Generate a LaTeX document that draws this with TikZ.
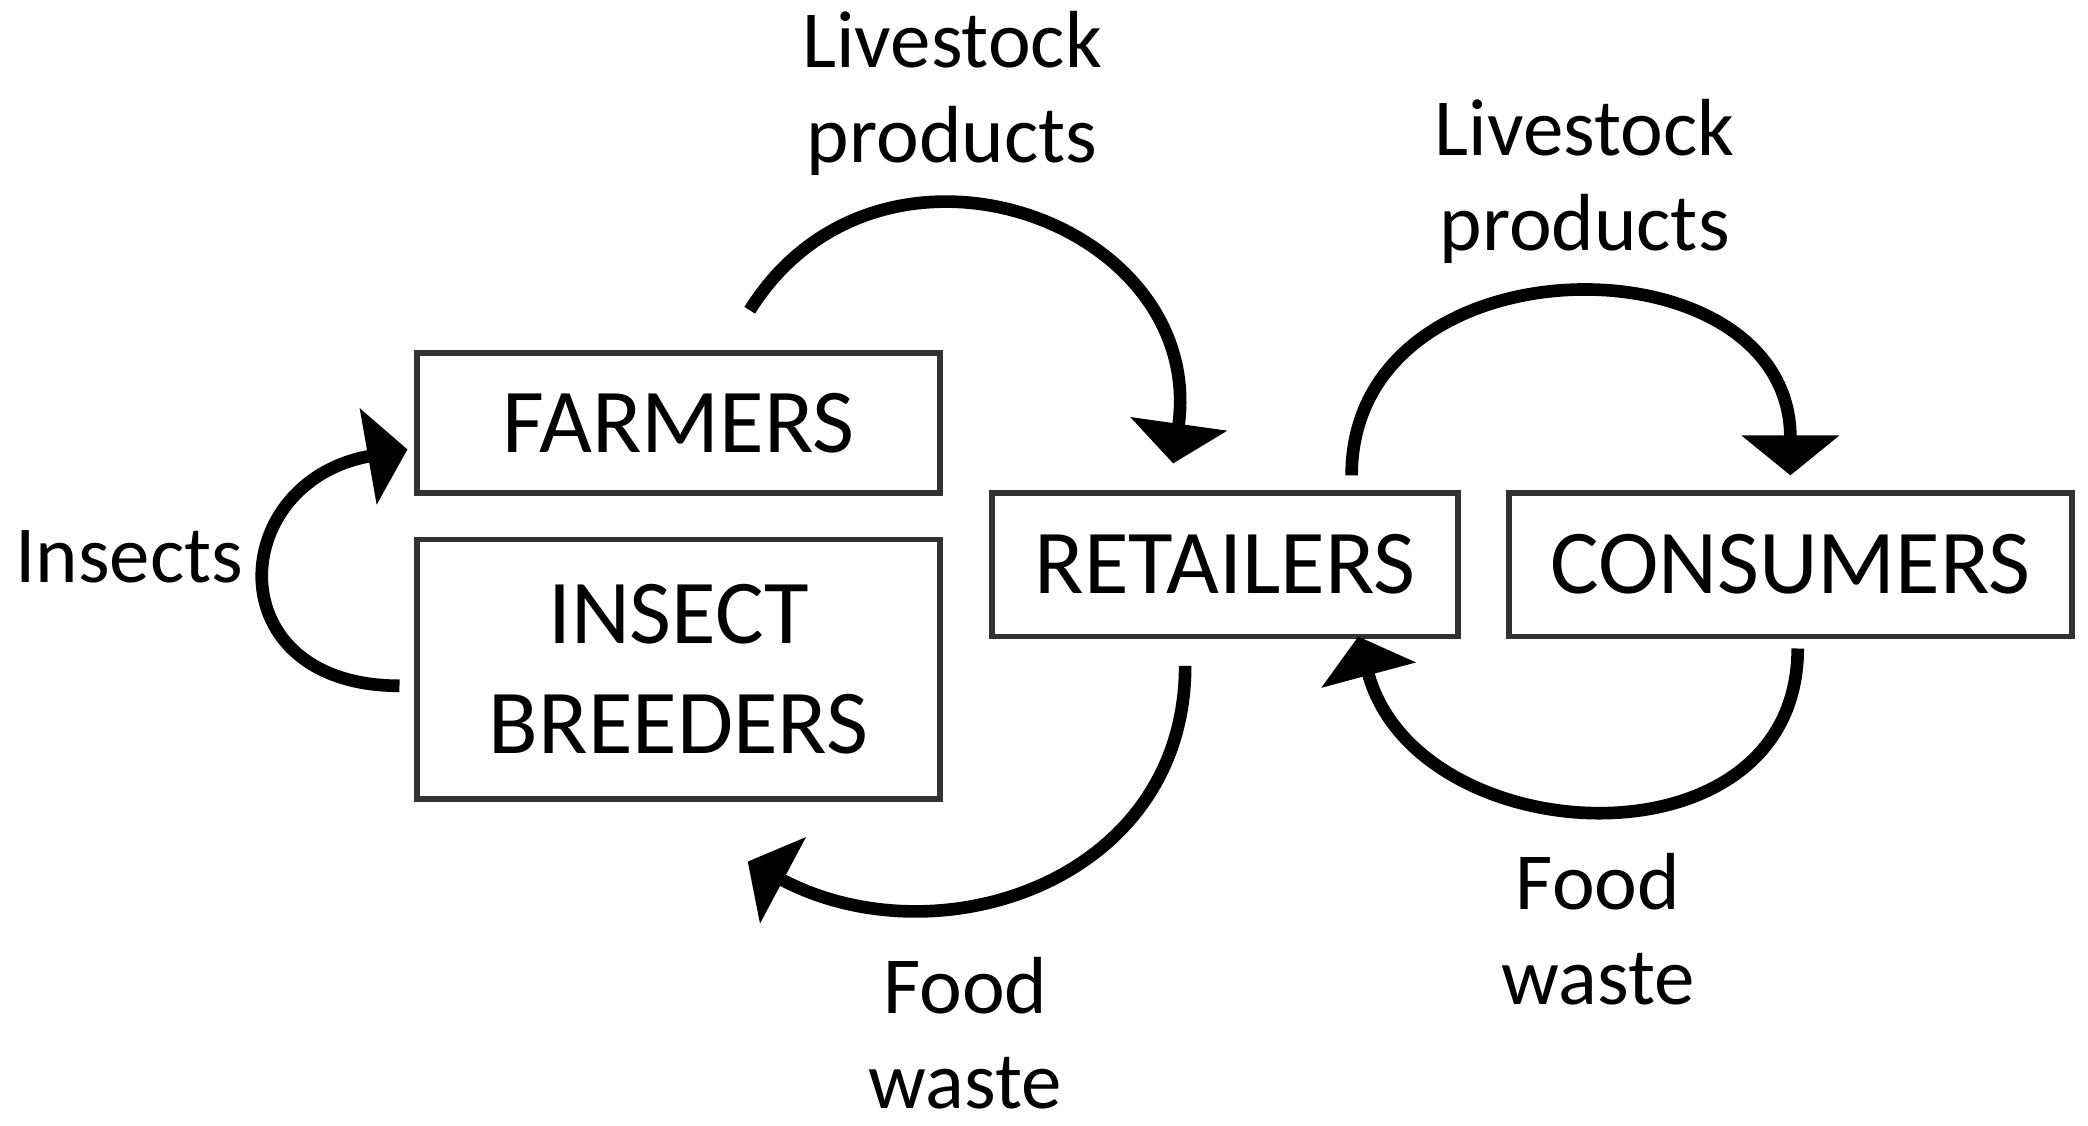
\documentclass[tikz,border=0pt]{standalone}
\usepackage{fontspec}
\setmainfont{Carlito}
\usepackage{tikz}
\usetikzlibrary{positioning, arrows.meta, calc}
\definecolor{boxgray}{RGB}{50, 50, 50}

\tikzset{
  actor/.style={draw=boxgray, line width=1.2pt, inner sep=0pt, outer sep=0pt,
                align=center, font=\fontsize{19.5}{23.6}\selectfont},
  flow/.style={line width=2.7pt, -{Triangle[width=0.72cm, length=0.3cm]}},
  flowlabel/.style={align=center, font=\fontsize{17.3}{20.3}\selectfont},
}

\begin{document}
\begin{tikzpicture}
  \useasboundingbox (0,0) rectangle (15.68,8.45);

  % actors in the chain
  \node[actor, minimum width=3.93cm, minimum height=1.05cm] (farmers) at (5.095,5.275) {FARMERS};
  \node[actor, minimum width=3.93cm, minimum height=1.95cm, below=0.35cm of farmers] (breeders) {INSECT\\BREEDERS};
  \node[actor, minimum width=3.50cm, minimum height=1.08cm] (retailers) at (9.20,4.21) {RETAILERS};
  \node[actor, minimum width=4.23cm, minimum height=1.08cm, right=0.38cm of retailers] (consumers) {CONSUMERS};

  % free ends of the flows
  \coordinate (stock1-from) at ($(farmers.north)+(0.535,0.32)$);
  \coordinate (stock1-to)   at ($(retailers.north)+(-0.39,0.22)$);
  \coordinate (stock2-from) at ($(retailers.north)+(0.95,0.13)$);
  \coordinate (stock2-to)   at ($(consumers.north)+(0,0.13)$);
  \coordinate (insect-from) at ($(breeders.west)+(-0.13,-0.125)$);
  \coordinate (insect-to)   at ($(farmers.west)+(-0.07,-0.2)$);
  \coordinate (waste1-from) at ($(retailers.south)+(-0.30,-0.22)$);
  \coordinate (waste1-to)   at ($(breeders.south)+(0.52,-0.47)$);
  \coordinate (waste2-from) at ($(consumers.south)+(0.055,-0.09)$);
  \coordinate (waste2-to)   at ($(retailers.south)+(1.0,0)$);

  % flows
  \draw[flow] (stock1-from) to[out=58, in=82, looseness=1.39] (stock1-to);
  \draw[flow] (stock2-from) to[out=90, in=90, looseness=1.41] (stock2-to);
  \draw[flow] (insect-from) to[out=180, in=190, looseness=1.99] (insect-to);
  \draw[flow] (waste1-from) to[out=-90, in=-28, looseness=1.15] (waste1-to);
  \draw[flow] (waste2-from) to[out=-90, in=-75, looseness=1.31] (waste2-to);

  % labels
  \node[flowlabel] (stock1-lbl) at (7.15,7.75) {Livestock\\products};
  \node[flowlabel] (stock2-lbl) at (11.90,7.09) {Livestock\\products};
  \node[flowlabel] (insect-lbl) at (0.97,4.27) {Insects};
  \node[flowlabel] (waste1-lbl) at (7.25,0.69) {Food\\waste};
  \node[flowlabel] (waste2-lbl) at (12.00,1.47) {Food\\waste};
\end{tikzpicture}
\end{document}
